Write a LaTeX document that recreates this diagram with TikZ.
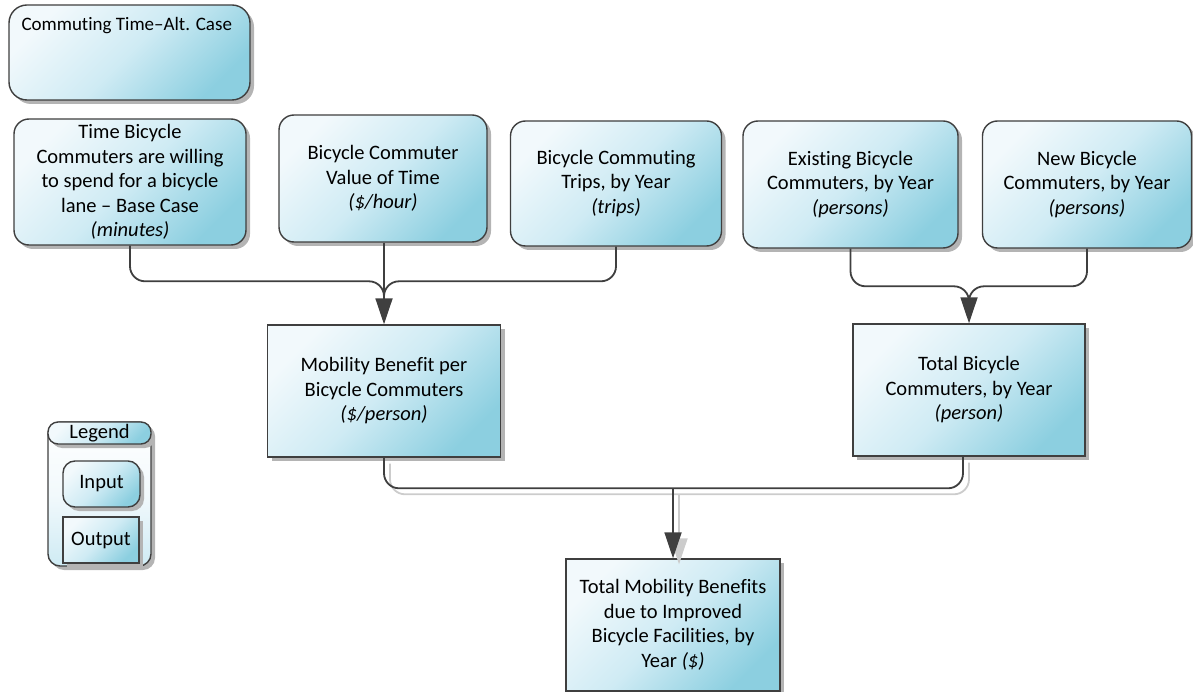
\documentclass[tikz,border=0pt]{standalone}
\usepackage{fontspec}
\setmainfont{Carlito}[Ligatures={TeX,NoCommon}]
\usetikzlibrary{arrows.meta, shadows, calc, positioning}
\definecolor{boxline}{HTML}{3F3F3F}
\definecolor{boxlight}{HTML}{F2F9FC}
\definecolor{boxmid}{HTML}{CFEBF4}
\definecolor{boxdark}{HTML}{8CCFE0}
\definecolor{shadowgray}{HTML}{B4B4B4}
\definecolor{connshadow}{HTML}{CCCCCC}

\begin{document}
\begin{tikzpicture}[x=1pt, y=-1pt,
    box/.style={draw=boxline, line width=1.4pt, top color=boxlight, bottom color=boxdark,
      middle color=boxmid, shading angle=45, align=center, inner sep=2pt,
      drop shadow={shadow xshift=4pt, shadow yshift=-4pt, fill=shadowgray, opacity=1},
      font=\fontsize{20.5}{24.5}\selectfont},
    inbox/.style={box, rounded corners=15pt},
    outbox/.style={box},
    conn/.style={draw=boxline, line width=1.8pt, rounded corners=15pt},
    tip/.style={-{Triangle[width=17pt, length=26pt]}}]
  \useasboundingbox (0,0) rectangle (1193,692);

  % title box
  \node[inbox, rounded corners=18pt, minimum width=241, minimum height=95] (title) at (129.5,52.5) {};
  \node[anchor=north west, inner sep=0pt, font=\fontsize{19}{23}\selectfont] (titletext)
    at ($(title.north west)+(13,13)$) {Commuting Time--Alt. Case};

  % inputs
  \node[inbox, minimum width=232, minimum height=126] (in1) at (130,182)
    {Time Bicycle\\Commuters are willing\\to spend for a bicycle\\lane -- Base Case\\\textit{(minutes)}};
  \node[inbox, minimum width=208, minimum height=127] (in2) at (383,178.5)
    {Bicycle Commuter\\Value of Time\\\textit{(\$/hour)}};
  \node[inbox, minimum width=211, minimum height=125] (in3) at (616,183.5)
    {Bicycle Commuting\\Trips, by Year\\\textit{(trips)}};
  \node[inbox, minimum width=215, minimum height=127] (in4) at (850.5,184.5)
    {Existing Bicycle\\Commuters, by Year\\\textit{(persons)}};
  \node[inbox, minimum width=209, minimum height=127] (in5) at (1087,184.5)
    {New Bicycle\\Commuters, by Year\\\textit{(persons)}};

  % outputs
  \node[outbox, minimum width=233, minimum height=132] (out1) at (384,391)
    {Mobility Benefit per\\Bicycle Commuters\\\textit{(\$/person)}};
  \node[outbox, minimum width=232, minimum height=132] (out2) at (969,390)
    {Total Bicycle\\Commuters, by Year\\\textit{(person)}};
  \node[outbox, minimum width=214, minimum height=132] (out3) at (673,625)
    {Total Mobility Benefits\\due to Improved\\Bicycle Facilities, by\\Year \textit{(\$)}};

  % joins
  \coordinate (j1) at ($(out1.north)+(0,-43)$);
  \coordinate (j2) at ($(out2.north)+(0,-37)$);
  \coordinate (j3) at ($(out3.north)+(0,-70)$);
  \coordinate (r3) at ($(out2.south)+(-6,0)$);

  % connectors into out1
  \draw[conn, tip] (in2.south -| out1.north) -- (out1.north);
  \draw[conn] (in1.south) |- (j1) -- ($(out1.north)+(0,-25)$);
  \draw[conn] (in3.south) |- (j1) -- ($(out1.north)+(0,-25)$);

  % connectors into out2
  \draw[conn, tip] (in4.south) |- (j2) -- (out2.north);
  \draw[conn] (in5.south) |- (j2) -- ($(out2.north)+(0,-23)$);

  % connectors into out3, with shadow
  \begin{scope}[transform canvas={xshift=6pt, yshift=-6pt}]
    \draw[conn, draw=connshadow] (out1.south) |- (j3) -| (r3);
    \draw[conn, draw=connshadow, tip] (j3) -- (out3.north);
  \end{scope}
  \draw[conn] (out1.south) |- (j3) -| (r3);
  \draw[conn, tip] (j3) -- (out3.north);

  % legend
  \node[box, top color=white, bottom color=boxmid, middle color=boxlight, rounded corners=12pt,
    minimum width=103, minimum height=144] (legend) at (99.5,494) {};
  \node[inbox, rounded corners=10pt, inner sep=0pt, minimum width=103, minimum height=22,
    anchor=north, drop shadow={shadow xshift=3pt, shadow yshift=-3pt, fill=shadowgray, opacity=1}]
    (legtitle) at (legend.north) {Legend};
  \node[inbox, rounded corners=12pt, minimum width=77, minimum height=46] (legin) at (101.5,484) {Input};
  \node[outbox, minimum width=76, minimum height=46] (legout) at (101,540) {Output};
\end{tikzpicture}
\end{document}
